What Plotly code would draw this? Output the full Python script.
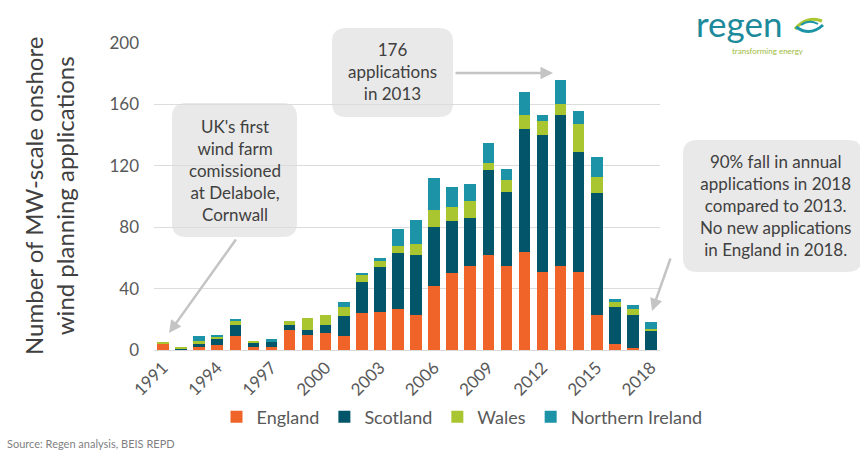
import plotly.graph_objects as go

years = list(range(1991, 2019))
england = [4, 0, 2, 3, 9, 2, 2, 13, 10, 11, 9, 24, 25, 27, 23, 42, 50, 55, 62, 55, 64, 51, 55, 51, 23, 4, 1, 0]
scotland = [0, 1, 2, 4, 7, 3, 3, 3, 3, 5, 13, 20, 29, 36, 39, 38, 34, 31, 55, 48, 80, 89, 98, 78, 79, 24, 22, 13]
wales = [1, 1, 2, 2, 3, 1, 0, 3, 8, 7, 6, 5, 4, 5, 7, 11, 9, 11, 5, 8, 9, 9, 7, 18, 11, 3, 4, 1]
n_ireland = [0, 0, 3, 1, 1, 0, 2, 0, 0, 0, 3, 1, 2, 11, 16, 21, 13, 11, 13, 7, 15, 4, 16, 9, 13, 2, 2, 4]
tick_years = list(range(1991, 2019, 3))
y_ticks = [0, 40, 80, 120, 160, 200]

colors = {
    "England": "#F0642A",
    "Scotland": "#03566A",
    "Wales": "#A9C52F",
    "Northern Ireland": "#1C93A6",
}

W, H = 860, 450
ML, MR, MT, MB = 154, 200, 43, 100
PW, PH = W - ML - MR, H - MT - MB


def px(x):
    return (x - ML) / PW


def py(y):
    return (H - MB - y) / PH


fig = go.Figure()
for name, vals in [("England", england), ("Scotland", scotland), ("Wales", wales), ("Northern Ireland", n_ireland)]:
    fig.add_trace(go.Bar(x=years, y=vals, name=name, marker=dict(color=colors[name], line=dict(width=0))))


def rrect(x0, y0, x1, y1, r):
    X0, X1 = px(x0), px(x1)
    Y0, Y1 = py(y0), py(y1)
    rx, ry = r / PW, r / PH
    return (f"M {X0+rx},{Y0} L {X1-rx},{Y0} Q {X1},{Y0} {X1},{Y0-ry} "
            f"L {X1},{Y1+ry} Q {X1},{Y1} {X1-rx},{Y1} L {X0+rx},{Y1} "
            f"Q {X0},{Y1} {X0},{Y1+ry} L {X0},{Y0-ry} Q {X0},{Y0} {X0+rx},{Y0} Z")


shapes = []
box_fill = "#E9E9E9"
for (x0, y0, x1, y1) in [(172, 103, 297, 237), (332, 28, 453, 117), (683, 140, 862, 272)]:
    shapes.append(dict(type="path", xref="paper", yref="paper", path=rrect(x0, y0, x1, y1, 14),
                       fillcolor=box_fill, line=dict(width=0), layer="below"))

# logo swirl
shapes.append(dict(type="path", xref="paper", yref="paper",
                   path=f"M {px(795)},{py(29)} Q {px(807)},{py(15)} {px(822)},{py(21)}",
                   line=dict(color="#A9C52F", width=3)))
shapes.append(dict(type="path", xref="paper", yref="paper",
                   path=f"M {px(796)},{py(27)} Q {px(810)},{py(37)} {px(823)},{py(25)}",
                   line=dict(color="#1C93A6", width=3)))
shapes.append(dict(type="path", xref="paper", yref="paper",
                   path=f"M {px(801)},{py(25)} Q {px(809)},{py(19)} {px(818)},{py(24)}",
                   line=dict(color="#1C93A6", width=2)))

txt_color = "#404040"
ann = []


def label(x, y, text, size, color=txt_color, **kw):
    d = dict(xref="paper", yref="paper", x=px(x), y=py(y), text=text, showarrow=False,
             xanchor="center", yanchor="middle", font=dict(size=size, color=color), align="center")
    d.update(kw)
    ann.append(d)


label(235, 170, "UK's first<br>wind farm<br>comissioned<br>at Delabole,<br>Cornwall", 17)
label(392, 71, "176<br>applications<br>in 2013", 17)
label(775, 205, "90% fall in annual<br>applications in 2018<br>compared to 2013.<br>No new applications<br>in England in 2018.", 17)

arrow_color = "#C4C4C4"
for (tx, ty, axo, ayo) in [(169, 333, 68, -95), (553, 73, -99, 0), (652, 311, 19, -54)]:
    ann.append(dict(xref="paper", yref="paper", x=px(tx), y=py(ty), ax=axo, ay=ayo, text="",
                    showarrow=True, arrowhead=2, arrowsize=1, arrowwidth=2.5, arrowcolor=arrow_color))

label(49, 196, "Number of MW-scale onshore<br>wind planning applications", 24, textangle=-90)
label(5, 443, "Source: Regen analysis, BEIS REPD", 11, color="#7F7F7F", xanchor="left")
label(695, 23, "regen", 35, color="#1C8A9A", xanchor="left", borderpad=0)
label(731, 51, "transforming energy", 8, color="#9DBB3D", xanchor="left", borderpad=0)

fig.update_layout(
    width=W, height=H,
    margin=dict(l=ML, r=MR, t=MT, b=MB),
    barmode="stack", bargap=0.36,
    plot_bgcolor="white", paper_bgcolor="white",
    font=dict(family="Lato, Open Sans, sans-serif", color="#595959"),
    shapes=shapes, annotations=ann,
    legend=dict(orientation="h", x=px(462), xanchor="center", y=py(417), yanchor="middle",
                font=dict(size=18, color="#595959"), itemwidth=30, traceorder="normal",
                bgcolor="rgba(0,0,0,0)"),
    xaxis=dict(range=[1990.5, 2018.5], tickvals=tick_years, ticktext=[str(t) for t in tick_years],
               tickangle=-45, tickfont=dict(size=17, color="#595959"), showgrid=False,
               showline=True, linecolor="#D9D9D9", linewidth=1, ticks=""),
    yaxis=dict(range=[0, 200], tickvals=y_ticks, tickfont=dict(size=17, color="#595959"),
               showgrid=True, gridcolor="#DCDCDC", gridwidth=1, zeroline=False,
               ticklabelstandoff=14),
)

fig.write_html("out.html")
